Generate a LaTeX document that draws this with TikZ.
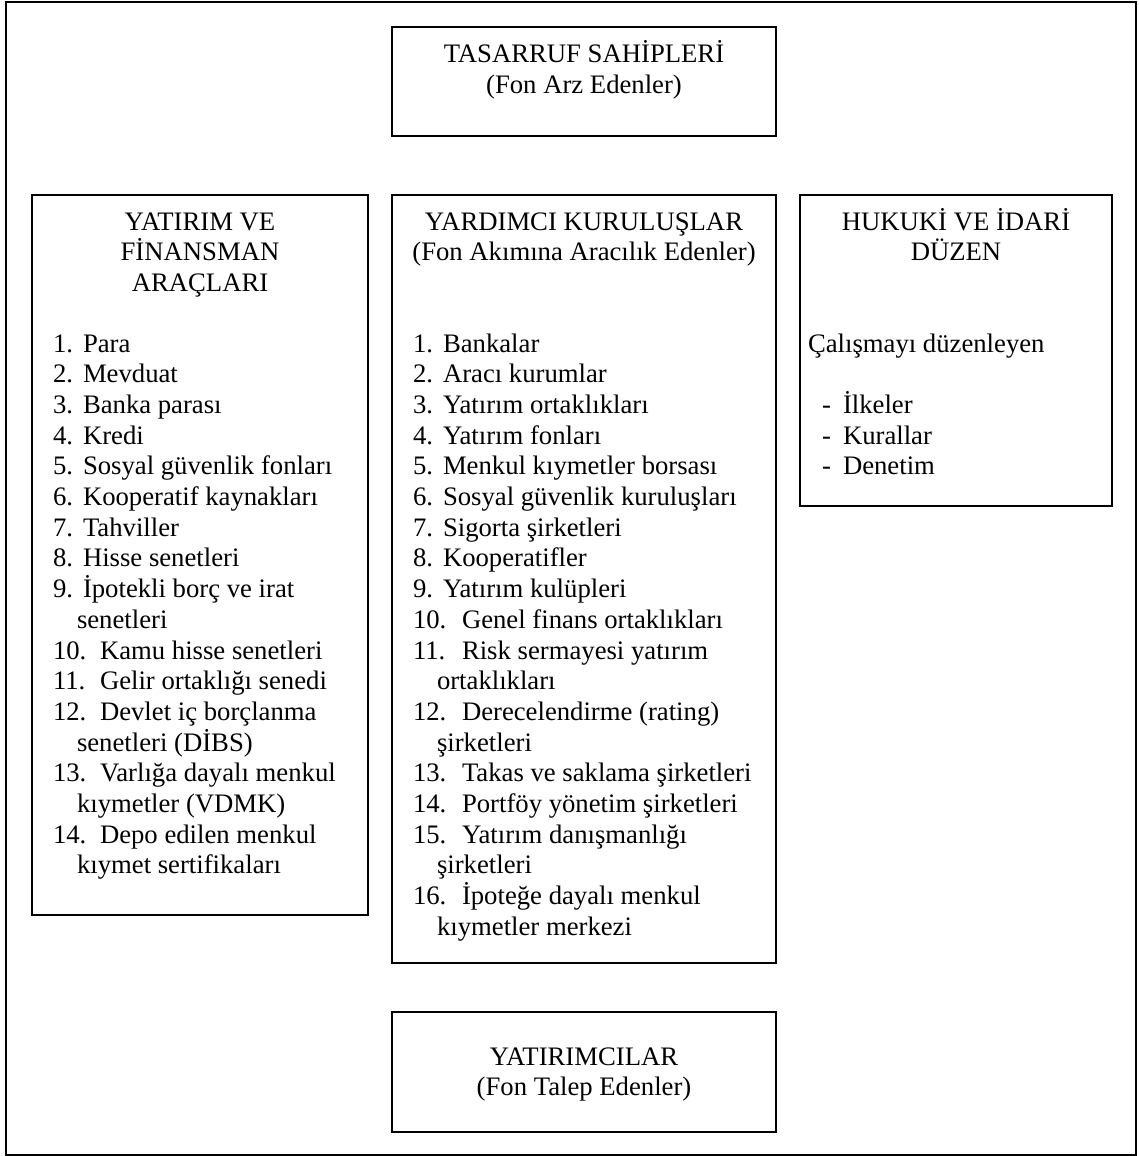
\documentclass[tikz,border=0pt]{standalone}
\usepackage{fontspec}
\setmainfont{Liberation Serif}
\begin{document}
\begin{tikzpicture}[x=1pt,y=-1pt,
  box/.style={draw=black,line width=2pt,anchor=north west,inner sep=0pt,outer sep=0pt},
  txt/.style={inner sep=0pt,outer sep=0pt,font=\fontsize{26.7}{30.7}\selectfont},
  head/.style={txt,anchor=base},
  item/.style={txt,anchor=base west}]
\useasboundingbox (0,0) rectangle (1138,1156);
% frame and boxes
\node[box,minimum width=1130pt,minimum height=1152pt] (frame) at (6,2.5) {};
\node[box,minimum width=384pt,minimum height=109pt] (top) at (392,27) {};
\node[box,minimum width=336pt,minimum height=720pt] (left) at (32,195) {};
\node[box,minimum width=384pt,minimum height=768pt] (mid) at (392,195) {};
\node[box,minimum width=312pt,minimum height=311pt] (right) at (800,195) {};
\node[box,minimum width=384pt,minimum height=120pt] (bot) at (392,1012) {};
% top box
\node[head] (topA) at (584,63) {TASARRUF SAHİPLERİ};
\node[head] (topB) at (584,93.7) {(Fon Arz Edenler)};
% headers
\node[head] (leftA) at (200,230) {YATIRIM VE};
\node[head] (leftB) at (200,260.7) {FİNANSMAN};
\node[head] (leftC) at (200,291.4) {ARAÇLARI};
\node[head] (midA) at (584,230) {YARDIMCI KURULUŞLAR};
\node[head] (midB) at (584,260.7) {(Fon Akımına Aracılık Edenler)};
\node[head] (rightA) at (956,230) {HUKUKİ VE İDARİ};
\node[head] (rightB) at (956,260.7) {DÜZEN};
% bottom box
\node[head] (botA) at (584,1065) {YATIRIMCILAR};
\node[head] (botB) at (584,1095.7) {(Fon Talep Edenler)};
% left list numbers
\foreach \k/\n in {0/1.,1/2.,2/3.,3/4.,4/5.,5/6.,6/7.,7/8.,8/9.,10/10.,11/11.,12/12.,14/13.,16/14.}
  \node[item] (Ln\k) at (53,{352+30.7*\k}) {\n};
% left list texts
\foreach \k/\x/\t in {0/83/Para,1/83/Mevduat,2/83/Banka parası,3/83/Kredi,
  4/83/Sosyal güvenlik fonları,5/83/Kooperatif kaynakları,6/83/Tahviller,
  7/83/Hisse senetleri,8/83/İpotekli borç ve irat,9/77/senetleri,
  10/100/Kamu hisse senetleri,11/100/Gelir ortaklığı senedi,
  12/100/Devlet iç borçlanma,13/77/senetleri (DİBS),
  14/100/Varlığa dayalı menkul,15/77/kıymetler (VDMK),
  16/100/Depo edilen menkul,17/77/kıymet sertifikaları}
  \node[item] (Lt\k) at (\x,{352+30.7*\k}) {\t};
% middle list numbers
\foreach \k/\n in {0/1.,1/2.,2/3.,3/4.,4/5.,5/6.,6/7.,7/8.,8/9.,9/10.,10/11.,12/12.,14/13.,15/14.,16/15.,18/16.}
  \node[item] (Mn\k) at (413,{352+30.7*\k}) {\n};
% middle list texts
\foreach \k/\x/\t in {0/443/Bankalar,1/443/Aracı kurumlar,2/443/Yatırım ortaklıkları,
  3/443/Yatırım fonları,4/443/Menkul kıymetler borsası,5/443/Sosyal güvenlik kuruluşları,
  6/443/Sigorta şirketleri,7/443/Kooperatifler,8/443/Yatırım kulüpleri,
  9/462/Genel finans ortaklıkları,10/462/Risk sermayesi yatırım,11/437/ortaklıkları,
  12/462/Derecelendirme (rating),13/437/şirketleri,14/462/Takas ve saklama şirketleri,
  15/462/Portföy yönetim şirketleri,16/462/Yatırım danışmanlığı,17/437/şirketleri,
  18/462/İpoteğe dayalı menkul,19/437/kıymetler merkezi}
  \node[item] (Mt\k) at (\x,{352+30.7*\k}) {\t};
% right box
\node[item] (Rintro) at (808,352) {Çalışmayı düzenleyen};
\foreach \k/\t in {2/İlkeler,3/Kurallar,4/Denetim}{
  \node[item] (Rd\k) at (822,{352+30.7*\k}) {-};
  \node[item] (Rt\k) at (843,{352+30.7*\k}) {\t};
}
\end{tikzpicture}
\end{document}
